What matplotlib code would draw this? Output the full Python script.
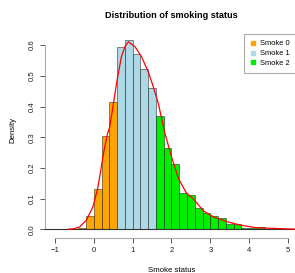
import matplotlib
matplotlib.use("Agg")
import matplotlib.pyplot as plt
from matplotlib.lines import Line2D
import numpy as np

plt.rcParams["font.family"] = ["Liberation Sans", "DejaVu Sans"]

# histogram bins (density scale)
bin_edges = [-0.4, -0.2, 0.0, 0.2, 0.4, 0.6, 0.8, 1.0, 1.2, 1.4, 1.6, 1.8, 2.0,
             2.2, 2.4, 2.6, 2.8, 3.0, 3.2, 3.4, 3.6, 3.8, 4.0, 4.2, 4.4]
bin_density = [0.005, 0.043, 0.130, 0.305, 0.414, 0.594, 0.616, 0.571, 0.522,
               0.459, 0.369, 0.264, 0.213, 0.118, 0.112, 0.068, 0.052, 0.043,
               0.036, 0.016, 0.016, 0.005, 0.005, 0.006]
bin_group = [0, 0, 0, 0, 0, 1, 1, 1, 1, 1, 2, 2, 2, 2, 2, 2, 2, 2, 2, 2, 2, 2, 2, 2]

# density curve
kde_x = [-0.67, -0.5, -0.36, -0.19, -0.02, 0.1, 0.18, 0.26, 0.35, 0.41, 0.5,
         0.585, 0.71, 0.8, 0.89, 1.06, 1.23, 1.40, 1.53, 1.66, 1.83, 2.0, 2.18,
         2.39, 2.56, 2.82, 3.07, 3.42, 3.76, 4.19, 4.62, 5.05, 5.4]
kde_y = [0.0, 0.002, 0.008, 0.03, 0.074, 0.134, 0.193, 0.255, 0.31, 0.334,
         0.405, 0.476, 0.562, 0.595, 0.611, 0.595, 0.562, 0.513, 0.465, 0.41,
         0.313, 0.236, 0.165, 0.117, 0.10, 0.06, 0.041, 0.025, 0.014, 0.005,
         0.003, 0.001, 0.0]

group_labels = ["Smoke 0", "Smoke 1", "Smoke 2"]
group_colors = ["orange", "lightblue", "#00ee00"]

W, H = 295, 273
fig = plt.figure(figsize=(W / 100, H / 100), dpi=100)
ax = fig.add_axes([45 / W, 1 - 237.7 / H, (298.5 - 45) / W, (237.7 - 20) / H])

lefts = np.array(bin_edges[:-1])
widths = np.diff(bin_edges)
cols = [group_colors[g] for g in bin_group]
ax.bar(lefts, bin_density, width=widths, align="edge", color=cols,
       edgecolor=(0, 0, 0, 0.45), linewidth=0.7, zorder=2)
ax.axhline(0, color="#333333", linewidth=0.8, zorder=3)
ax.plot(kde_x, kde_y, color="red", linewidth=0.9, zorder=4)

ax.set_xlim(-1.257, 5.27)
ax.set_ylim(-0.0274, 0.682)

for s in ["top", "right"]:
    ax.spines[s].set_visible(False)
ax.spines["left"].set_bounds(0, 0.6)
ax.spines["bottom"].set_bounds(-1, 5)
for s in ["left", "bottom"]:
    ax.spines[s].set_color("#aaaaaa")
    ax.spines[s].set_linewidth(0.8)

ax.set_xticks([-1, 0, 1, 2, 3, 4, 5])
ax.set_yticks([0.0, 0.1, 0.2, 0.3, 0.4, 0.5, 0.6])
ax.set_yticklabels(["0.0", "0.1", "0.2", "0.3", "0.4", "0.5", "0.6"],
                   rotation=90, va="center")
ax.tick_params(axis="both", labelsize=5.6, length=3.5, width=0.7,
               color="#555555", labelcolor="#222222", pad=3)

fig.text(171.5 / W, 1 - 16 / H, "Distribution of smoking status",
         ha="center", va="center", fontsize=6.6, fontweight="bold")
fig.text(172 / W, 1 - 270 / H, "Smoke status", ha="center", va="center",
         fontsize=5.6)
fig.text(13 / W, 1 - 130 / H, "Density", ha="center", va="center",
         fontsize=5.6, rotation=90)

# legend, anchored at its top-left corner
handles = [Line2D([], [], marker="s", linestyle="none", color=c, markersize=3)
           for c in group_colors]
leg = fig.legend(handles, group_labels, loc="upper left",
                 bbox_to_anchor=(244.3 / W, 1 - 34 / H), fontsize=5.4,
                 frameon=True, fancybox=False, edgecolor="#999999",
                 handlelength=0.6, handletextpad=0.7, labelspacing=0.35,
                 borderpad=0.8, borderaxespad=0)
leg.get_frame().set_linewidth(0.8)

fig.savefig("out.png", dpi=100)
